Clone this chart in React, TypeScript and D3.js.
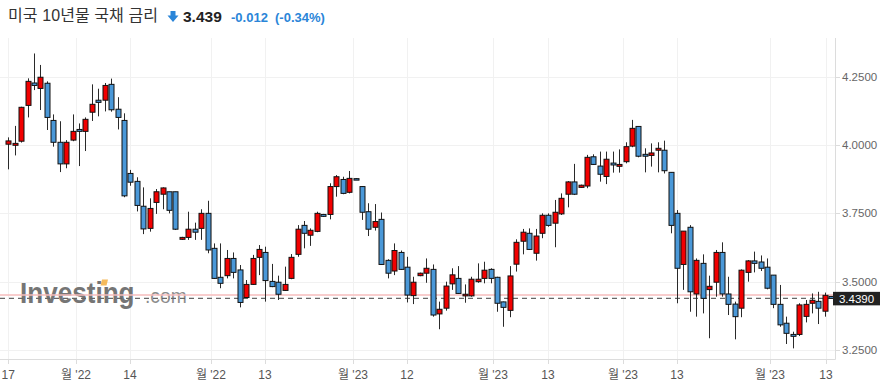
import React from "react";
import * as d3 from "d3";

const opens = [
  4.003, 3.999, 4.014, 4.145, 4.227, 4.207, 4.226, 4.090, 4.010, 3.931,
  4.018, 4.057, 4.050, 4.120, 4.164, 4.164, 4.222, 4.131, 4.090, 3.896,
  3.867, 3.776, 3.695, 3.790, 3.820, 3.829, 3.829, 3.655, 3.662, 3.692,
  3.695, 3.750, 3.622, 3.516, 3.522, 3.585, 3.543, 3.442, 3.490, 3.589,
  3.607, 3.501, 3.498, 3.468, 3.512, 3.600, 3.706, 3.670, 3.684, 3.746,
  3.746, 3.848, 3.874, 3.827, 3.877, 3.848, 3.756, 3.699, 3.728, 3.578,
  3.539, 3.607, 3.553, 3.449, 3.522, 3.531, 3.545, 3.382, 3.403, 3.492,
  3.512, 3.448, 3.448, 3.500, 3.512, 3.545, 3.516, 3.426, 3.395, 3.564,
  3.648, 3.677, 3.604, 3.677, 3.743, 3.714, 3.748, 3.820, 3.865, 3.845,
  3.850, 3.957, 3.923, 3.885, 3.934, 3.922, 3.939, 3.996, 4.068, 3.966,
  3.962, 3.981, 3.981, 3.900, 3.750, 3.563, 3.699, 3.455, 3.567, 3.471,
  3.498, 3.607, 3.455, 3.418, 3.403, 3.534, 3.576, 3.572, 3.553, 3.524,
  3.417, 3.348, 3.307, 3.307, 3.373, 3.421, 3.428, 3.392, 3.446,
];
const highs = [
  4.028, 4.070, 4.140, 4.244, 4.335, 4.293, 4.233, 4.112, 4.087, 4.018,
  4.112, 4.079, 4.101, 4.222, 4.206, 4.227, 4.243, 4.175, 4.116, 3.909,
  3.882, 3.845, 3.805, 3.839, 3.845, 3.829, 3.829, 3.664, 3.756, 3.716,
  3.765, 3.796, 3.640, 3.640, 3.616, 3.607, 3.561, 3.506, 3.598, 3.634,
  3.628, 3.565, 3.522, 3.555, 3.601, 3.707, 3.722, 3.695, 3.756, 3.748,
  3.860, 3.890, 3.884, 3.905, 3.879, 3.850, 3.787, 3.784, 3.753, 3.582,
  3.640, 3.614, 3.591, 3.518, 3.533, 3.585, 3.563, 3.427, 3.500, 3.549,
  3.557, 3.490, 3.518, 3.567, 3.573, 3.549, 3.518, 3.427, 3.557, 3.655,
  3.693, 3.695, 3.693, 3.750, 3.750, 3.799, 3.823, 3.868, 3.931, 3.855,
  3.964, 3.966, 3.976, 3.976, 3.976, 3.984, 4.010, 4.092, 4.068, 3.988,
  4.006, 4.010, 4.016, 3.900, 3.762, 3.685, 3.707, 3.585, 3.600, 3.522,
  3.616, 3.644, 3.518, 3.427, 3.545, 3.579, 3.610, 3.596, 3.585, 3.524,
  3.488, 3.372, 3.317, 3.421, 3.433, 3.457, 3.463, 3.460, 3.447,
];
const lows = [
  3.911, 3.962, 4.009, 4.101, 4.201, 4.128, 4.055, 3.994, 3.901, 3.915,
  4.014, 3.923, 3.978, 4.088, 4.105, 4.123, 4.122, 4.057, 3.809, 3.851,
  3.757, 3.674, 3.683, 3.748, 3.765, 3.750, 3.689, 3.653, 3.653, 3.653,
  3.653, 3.604, 3.510, 3.476, 3.512, 3.512, 3.406, 3.440, 3.488, 3.524,
  3.427, 3.480, 3.433, 3.466, 3.509, 3.591, 3.622, 3.631, 3.681, 3.737,
  3.728, 3.811, 3.820, 3.823, 3.873, 3.726, 3.667, 3.687, 3.561, 3.512,
  3.524, 3.543, 3.424, 3.418, 3.520, 3.496, 3.372, 3.326, 3.394, 3.470,
  3.455, 3.423, 3.445, 3.496, 3.494, 3.494, 3.390, 3.335, 3.370, 3.537,
  3.600, 3.616, 3.577, 3.659, 3.701, 3.626, 3.744, 3.772, 3.817, 3.843,
  3.842, 3.927, 3.866, 3.857, 3.899, 3.899, 3.933, 3.992, 3.955, 3.900,
  3.921, 3.900, 3.896, 3.677, 3.421, 3.470, 3.390, 3.372, 3.384, 3.293,
  3.445, 3.445, 3.378, 3.289, 3.370, 3.500, 3.534, 3.539, 3.472, 3.403,
  3.335, 3.272, 3.256, 3.301, 3.351, 3.384, 3.345, 3.372, 3.438,
];
const closes = [
  4.015, 4.006, 4.138, 4.233, 4.218, 4.248, 4.101, 4.010, 3.931, 4.010,
  4.050, 4.050, 4.094, 4.149, 4.156, 4.218, 4.129, 4.101, 3.814, 3.864,
  3.779, 3.693, 3.768, 3.829, 3.843, 3.761, 3.692, 3.662, 3.692, 3.681,
  3.750, 3.616, 3.512, 3.494, 3.585, 3.534, 3.424, 3.490, 3.585, 3.618,
  3.504, 3.482, 3.454, 3.490, 3.589, 3.692, 3.677, 3.688, 3.750, 3.739,
  3.848, 3.884, 3.823, 3.878, 3.875, 3.754, 3.692, 3.720, 3.563, 3.531,
  3.614, 3.545, 3.451, 3.498, 3.531, 3.549, 3.378, 3.399, 3.484, 3.525,
  3.457, 3.454, 3.509, 3.509, 3.542, 3.512, 3.421, 3.406, 3.521, 3.644,
  3.681, 3.618, 3.667, 3.743, 3.706, 3.754, 3.805, 3.865, 3.820, 3.853,
  3.955, 3.929, 3.893, 3.948, 3.927, 3.929, 3.994, 4.061, 3.959, 3.959,
  3.971, 3.988, 3.906, 3.706, 3.549, 3.685, 3.463, 3.578, 3.439, 3.483,
  3.607, 3.455, 3.417, 3.372, 3.542, 3.576, 3.567, 3.549, 3.476, 3.417,
  3.342, 3.311, 3.300, 3.415, 3.417, 3.432, 3.403, 3.450, 3.439,
];

const yTicks = [3.25, 3.5, 3.75, 4.0, 4.25];
const xTickPos = [0, 10.53, 18.93, 31.52, 39.92, 53.61, 62.01, 75.38, 83.93, 95.6, 103.99, 118.46, 127.17];
const xTickLabels = ["17", "월 '22", "14", "월 '22", "13", "월 '23", "12", "월 '23", "13", "월 '23", "13", "월 '23", "13"];

const lastPrice = 3.439;
const prevClose = 3.451;
const titleText = "미국 10년물 국채 금리";
const priceText = "3.439";
const changeText = "-0.012";
const changePctText = "(-0.34%)";

const W = 890;
const H = 392;
const PLOT_RIGHT = 835;
const PLOT_BOTTOM = 359;
const PLOT_TOP = 38;
const FONT = "'Liberation Sans', Arial, 'Noto Sans CJK KR', sans-serif";
const UP = "#f20000";
const DOWN = "#4a98d8";

export default function App() {
  const x = d3.scaleLinear().domain([0, opens.length - 1]).range([8.3, 831.3]);
  const y = d3.scaleLinear().domain([3.25, 4.25]).range([350, 76.7]);
  const fmt = d3.format(".4f");

  const candles = opens.map((o, i) => ({
    o,
    h: highs[i],
    l: lows[i],
    c: closes[i],
    i,
  }));

  return (
    <svg
      width={W}
      height={H}
      style={{ position: "absolute", left: 0, top: 0, background: "#fff" }}
      fontFamily={FONT}
    >
      <rect x={0} y={0} width={W} height={H} fill="#fff" />
      {/* title */}
      <text x={8} y={21} fontSize={16} fill="#333" textLength={150} lengthAdjust="spacing">
        {titleText}
      </text>
      <g fill="#2a85d8">
        <rect x={170.5} y={11} width={5} height={5} />
        <polygon points="167.5,15.5 178.5,15.5 173,22" />
      </g>
      <text x={183} y={21.5} fontSize={15.5} fontWeight="bold" fill="#222">
        {priceText}
      </text>
      <text x={231} y={21.5} fontSize={13} fontWeight="bold" fill="#2a85d8">
        {changeText}
      </text>
      <text x={275} y={21.5} fontSize={13} fontWeight="bold" fill="#2a85d8">
        {changePctText}
      </text>

      {/* grid */}
      <g stroke="#f1f1f1" strokeWidth={1}>
        {yTicks.map((t) => (
          <line key={"hy" + t} x1={0} x2={PLOT_RIGHT} y1={Math.round(y(t)) + 0.5} y2={Math.round(y(t)) + 0.5} />
        ))}
        {xTickPos.map((p, k) => (
          <line key={"vx" + k} x1={Math.round(x(p)) + 0.5} x2={Math.round(x(p)) + 0.5} y1={PLOT_TOP} y2={PLOT_BOTTOM} />
        ))}
      </g>

      {/* axes */}
      <g stroke="#dcdcdc" strokeWidth={1}>
        <line x1={0} x2={PLOT_RIGHT + 0.5} y1={PLOT_BOTTOM + 0.5} y2={PLOT_BOTTOM + 0.5} />
        <line x1={PLOT_RIGHT + 0.5} x2={PLOT_RIGHT + 0.5} y1={PLOT_TOP} y2={PLOT_BOTTOM + 0.5} />
        {xTickPos.map((p, k) => (
          <line key={"tx" + k} x1={Math.round(x(p)) + 0.5} x2={Math.round(x(p)) + 0.5} y1={PLOT_BOTTOM} y2={PLOT_BOTTOM + 5} />
        ))}
        {yTicks.map((t) => (
          <line key={"ty" + t} x1={PLOT_RIGHT} x2={PLOT_RIGHT + 5} y1={Math.round(y(t)) + 0.5} y2={Math.round(y(t)) + 0.5} />
        ))}
      </g>
      <g fontSize={12} fill="#555" textAnchor="middle">
        {xTickPos.map((p, k) => (
          <text key={"lx" + k} x={x(p)} y={379}>
            {xTickLabels[k]}
          </text>
        ))}
      </g>
      <g fontSize={11.5} fill="#666">
        {yTicks.map((t) => (
          <text key={"ly" + t} x={842} y={y(t) + 4}>
            {fmt(t)}
          </text>
        ))}
      </g>

      {/* watermark */}
      <g opacity={0.85}>
        <g transform="translate(20,303) scale(0.87,1)">
          <text x={0} y={0} fontSize={30} fontWeight="bold" fill="#5e5e5e">
            Investing
          </text>
        </g>
        <g transform="translate(145,303) scale(0.92,1)">
          <text x={0} y={0} fontSize={21} fill="#7a7a7a">
            .com
          </text>
        </g>
        <polygon points="102,279.5 108,279.5 106.5,285.5 100.5,285.5" fill="#f5b041" />
      </g>

      {/* previous close and last price lines */}
      <line x1={0} x2={PLOT_RIGHT} y1={y(prevClose)} y2={y(prevClose)} stroke="#f6bcbc" strokeWidth={1.6} />
      <line x1={0} x2={PLOT_RIGHT} y1={y(lastPrice)} y2={y(lastPrice)} stroke="#666" strokeWidth={1.3} strokeDasharray="5 4" />

      {/* candles */}
      <g>
        {candles.map((d) => {
          const cx = Math.round(x(d.i)) + 0.5;
          const up = d.c > d.o;
          const top = y(Math.max(d.o, d.c));
          const bot = y(Math.min(d.o, d.c));
          const hgt = Math.max(bot - top, 1.5);
          return (
            <g key={d.i}>
              <line x1={cx} x2={cx} y1={y(d.h)} y2={y(d.l)} stroke="#2a2a2a" strokeWidth={1} />
              <rect x={cx - 2.5} y={top} width={5} height={hgt} fill={up ? UP : DOWN} stroke="#111" strokeWidth={1} />
            </g>
          );
        })}
      </g>

      {/* last price tag */}
      <rect x={833} y={y(lastPrice) - 6.5} width={47} height={13.5} fill="#222" />
      <text x={856.5} y={y(lastPrice) + 4.2} fontSize={11.5} fill="#fff" textAnchor="middle">
        {fmt(lastPrice)}
      </text>
    </svg>
  );
}
